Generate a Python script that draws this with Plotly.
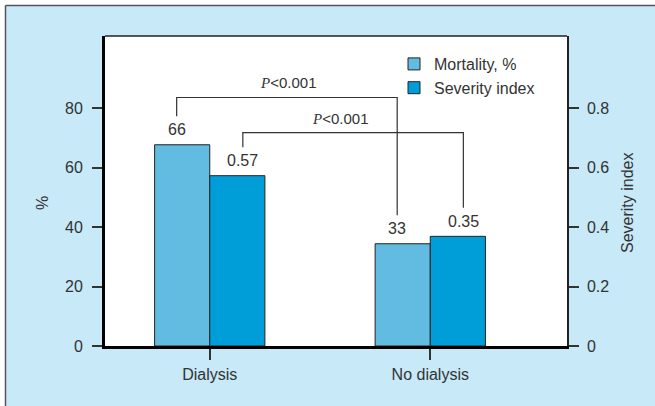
import plotly.graph_objects as go

categories = ["Dialysis", "No dialysis"]
mortality = [67.7, 34.4]          # bar heights (%)
severity = [0.573, 0.369]         # bar heights (index)
mortality_labels = ["66", "33"]
severity_labels = ["0.57", "0.35"]
left_ticks = [0, 20, 40, 60, 80]
right_ticks = [0, 0.2, 0.4, 0.6, 0.8]
p_labels = ["<span style=\"font-family:'Liberation Serif',serif\"><i>P</i></span>&lt;0.001"] * 2

FONT = "Liberation Sans, Arial, sans-serif"
TXT = "#333333"
C_MORT = "#62bbe0"
C_SEV = "#009ed9"
BG = "#c7e9f8"
EDGE = "#222222"

fig = go.Figure()
fig.add_trace(go.Bar(x=categories, y=mortality, name="Mortality, %",
                     marker=dict(color=C_MORT, line=dict(color=EDGE, width=1)),
                     offsetgroup="m", yaxis="y"))
fig.add_trace(go.Bar(x=categories, y=severity, name="Severity index",
                     marker=dict(color=C_SEV, line=dict(color=EDGE, width=1)),
                     offsetgroup="s", yaxis="y2"))

W, H = 655, 406
L, R, T, B = 105, 88, 36, 60
pw, ph = W - L - R, H - T - B

def px2x(px):
    return (px - L) / pw

def py2y(py):
    return (H - B - py) / ph

YMAX = 104.3
shift_units = 9.6   # bracket leg gap above bar in % units
off = 0.15

shapes = []
# outer white margin + dark frame (top & left)
shapes.append(dict(type="rect", xref="paper", yref="paper", x0=px2x(-2), x1=px2x(W + 2),
                   y0=py2y(5), y1=py2y(-2), fillcolor="white", line=dict(width=0), layer="above"))
shapes.append(dict(type="rect", xref="paper", yref="paper", x0=px2x(-2), x1=px2x(5),
                   y0=py2y(H + 2), y1=py2y(-2), fillcolor="white", line=dict(width=0), layer="above"))
shapes.append(dict(type="line", xref="paper", yref="paper", x0=px2x(5.5), x1=px2x(W + 2),
                   y0=py2y(5.5), y1=py2y(5.5), line=dict(color="#555555", width=1.5), layer="above"))
shapes.append(dict(type="line", xref="paper", yref="paper", x0=px2x(5.5), x1=px2x(5.5),
                   y0=py2y(5.5), y1=py2y(H + 2), line=dict(color="#555555", width=1.5), layer="above"))
# top border of plot area
shapes.append(dict(type="line", xref="paper", yref="paper", x0=0, x1=1, y0=1, y1=1,
                   line=dict(color=EDGE, width=1.5), layer="above"))

# bracket 1 (mortality, y axis)
b1_top = 83.6
shapes.append(dict(type="path", xref="x", yref="y",
                   path=f"M {0 - off},{mortality[0] + shift_units} L {0 - off},{b1_top} "
                        f"L {1 - off},{b1_top} L {1 - off},{mortality[1] + shift_units}",
                   line=dict(color=TXT, width=1.2)))
# bracket 2 (severity, y2 axis)
b2_top = 0.718
shapes.append(dict(type="path", xref="x", yref="y2",
                   path=f"M {0 + off},{severity[0] + shift_units/100} L {0 + off},{b2_top} "
                        f"L {1 + off},{b2_top} L {1 + off},{severity[1] + shift_units/100}",
                   line=dict(color=TXT, width=1.2)))

annotations = []
for i in range(2):
    annotations.append(dict(x=i - off, y=mortality[i], xref="x", yref="y", text=mortality_labels[i],
                            showarrow=False, xanchor="center", yanchor="middle", yshift=15,
                            font=dict(family=FONT, size=16, color=TXT)))
    annotations.append(dict(x=i + off, y=severity[i], xref="x", yref="y2", text=severity_labels[i],
                            showarrow=False, xanchor="center", yanchor="middle", yshift=15,
                            font=dict(family=FONT, size=16, color=TXT)))
annotations.append(dict(x=0.355, y=88.5, xref="x", yref="y", text=p_labels[0], showarrow=False,
                        xanchor="center", yanchor="middle",
                        font=dict(family=FONT, size=15, color=TXT)))
annotations.append(dict(x=0.59, y=0.764, xref="x", yref="y2", text=p_labels[1], showarrow=False,
                        xanchor="center", yanchor="middle",
                        font=dict(family=FONT, size=15, color=TXT)))
# axis titles
annotations.append(dict(x=px2x(42), y=py2y(203), xref="paper", yref="paper", text="%",
                        xanchor="center", yanchor="middle",
                        showarrow=False, textangle=-90, font=dict(family=FONT, size=16, color=TXT)))
annotations.append(dict(x=px2x(627), y=py2y(203), xref="paper", yref="paper", text="Severity index",
                        xanchor="center", yanchor="middle",
                        showarrow=False, textangle=-90, font=dict(family=FONT, size=16, color=TXT)))

fig.update_layout(
    width=W, height=H,
    margin=dict(l=L, r=R, t=T, b=B, pad=0),
    paper_bgcolor=BG, plot_bgcolor="white",
    barmode="group", bargap=0.5, bargroupgap=0,
    font=dict(family=FONT, size=16, color=TXT),
    showlegend=True,
    legend=dict(x=px2x(394), y=py2y(47), xanchor="left", yanchor="top",
                bgcolor="rgba(0,0,0,0)", font=dict(family=FONT, size=16, color=TXT),
                tracegroupgap=0, itemwidth=30),
    xaxis=dict(type="category", range=[-0.475, 1.62], showline=True, linecolor="black", linewidth=3,
               ticks="outside", ticklen=11, tickwidth=1.5, tickcolor=TXT, showgrid=False, zeroline=False,
               tickfont=dict(family=FONT, size=16, color=TXT), ticklabelstandoff=1),
    yaxis=dict(range=[0, YMAX], tickvals=left_ticks, showline=True, linecolor="black", linewidth=3,
               ticks="outside", ticklen=10, tickwidth=1.5, tickcolor=TXT, showgrid=False, zeroline=False,
               tickfont=dict(family=FONT, size=16, color=TXT), ticklabelstandoff=6),
    yaxis2=dict(range=[0, YMAX / 100], tickvals=right_ticks, overlaying="y", side="right",
                showline=True, linecolor=EDGE, linewidth=1.5,
                ticks="outside", ticklen=10, tickwidth=1.5, tickcolor=TXT, showgrid=False, zeroline=False,
                tickfont=dict(family=FONT, size=16, color=TXT), ticklabelstandoff=5),
    shapes=shapes, annotations=annotations,
)

fig.write_html("out.html", config={"displayModeBar": False},
               post_script="document.body.style.margin='0';document.body.style.padding='0';")
